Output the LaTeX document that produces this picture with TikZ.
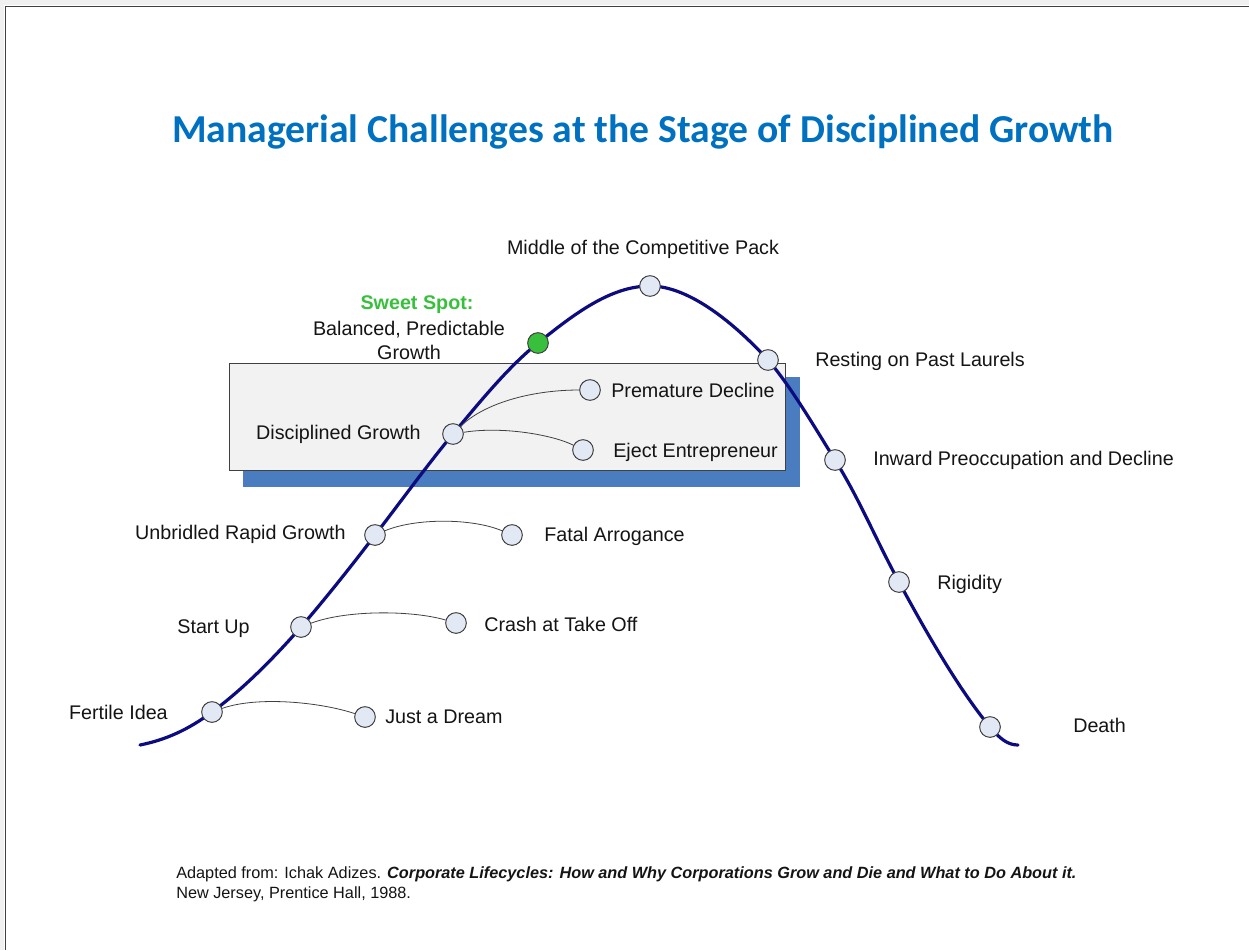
\documentclass[tikz,border=0pt]{standalone}
\usepackage{fontspec}
\setmainfont{Liberation Sans}
\newfontfamily\titlefont{Carlito}
\definecolor{curveblue}{RGB}{12,12,128}
\definecolor{titleblue}{RGB}{0,112,192}
\definecolor{shadowblue}{RGB}{74,124,192}
\definecolor{stagefill}{RGB}{226,233,244}
\definecolor{sweetgreen}{RGB}{56,192,60}
\definecolor{boxgray}{RGB}{242,242,242}
\definecolor{edgegray}{RGB}{64,64,64}
\definecolor{textgray}{RGB}{20,20,20}
\tikzset{
    stage/.style={draw=edgegray, fill=stagefill, circle, line width=0.75pt, minimum size=15.5pt, inner sep=0pt},
    sweet/.style={stage, fill=sweetgreen},
    lbl/.style={font=\fontsize{14.8}{18}\selectfont, text=textgray, inner sep=0pt, text height=11pt, text depth=0pt},
    srcline/.style={lbl, anchor=west, font=\fontsize{12.2}{15}\selectfont, text height=9pt},
    branch/.style={draw=edgegray, line width=0.6pt},
    lifecurve/.style={draw=curveblue, line width=2.4pt, line cap=round}
}

\begin{document}
\begin{tikzpicture}[x=0.75pt, y=-0.75pt]
  \useasboundingbox (0,0) rectangle (1249,950);
  % page frame
  \fill [gray!12] (0,0) rectangle (1249,5);
  \fill [gray!12] (0,0) rectangle (4,950);
  \draw [edgegray, line width=1pt] (5.5,950) -- (5.5,6.5) -- (1249,6.5);

  \node [font=\titlefont\bfseries\fontsize{29.7}{36}\selectfont, text=titleblue] (title) at (643,132)
    {Managerial Challenges at the Stage of Disciplined Growth};

  % panel behind the current stage, with its shadow
  \fill [shadowblue] (243,377) rectangle (800,487);
  \draw [edgegray, fill=boxgray, line width=0.75pt] (229,363) rectangle (785,470);

  % stages along the lifecycle
  \coordinate (c0) at (140,745);
  \coordinate (c1) at (212,712);
  \coordinate (c2) at (301,627);
  \coordinate (c3) at (375,535);
  \coordinate (c4) at (453,434);
  \coordinate (c5) at (538,343);
  \coordinate (c6) at (650,286);
  \coordinate (c7) at (768,360);
  \coordinate (c8) at (835,460);
  \coordinate (c9) at (899,582);
  \coordinate (c10) at (990,727);
  \coordinate (c11) at (1018,745);
  \draw [lifecurve] (c0)
    .. controls +(25,-5) and +(-24,18) .. (c1)
    .. controls +(30,-22) and +(-28,32) .. (c2)
    .. controls +(25,-29) and +(-22,29) .. (c3)
    .. controls +(24,-31) and +(-25,30) .. (c4)
    .. controls +(26,-31) and +(-30,24) .. (c5)
    .. controls +(35,-28) and +(-40,0) .. (c6)
    .. controls +(40,0) and +(-32,-35) .. (c7)
    .. controls +(22,25) and +(-18,-29) .. (c8)
    .. controls +(24,38) and +(-22,-40) .. (c9)
    .. controls +(28,52) and +(-30,-36) .. (c10)
    .. controls +(10,12) and +(-10,0) .. (c11);

  \node [stage] (fi) at (c1) {};
  \node [stage] (su) at (c2) {};
  \node [stage] (ur) at (c3) {};
  \node [stage] (dg) at (c4) {};
  \node [sweet] (ss) at (c5) {};
  \node [stage] (mc) at (c6) {};
  \node [stage] (rp) at (c7) {};
  \node [stage] (ip) at (c8) {};
  \node [stage] (rg) at (c9) {};
  \node [stage] (dt) at (c10) {};

  % traps branching off the curve
  \node [stage] (jd) at (365,717) {};
  \node [stage] (ct) at (456,623) {};
  \node [stage] (fa) at (512,535) {};
  \node [stage] (pd) at (590,390) {};
  \node [stage] (ee) at (583,450) {};
  \draw [branch] (fi) .. controls +(45,-16) and +(-45,-15) .. (jd);
  \draw [branch] (su) .. controls +(45,-17) and +(-45,-13) .. (ct);
  \draw [branch] (ur) .. controls +(40,-17) and +(-40,-17) .. (fa);
  \draw [branch] (dg) .. controls +(30,-30) and +(-60,0) .. (pd);
  \draw [branch] (dg) .. controls +(50,-8) and +(-30,-15) .. (ee);

  % labels
  \node [lbl, anchor=east] (fil) at (168,712) {Fertile Idea};
  \node [lbl, anchor=east] (sul) at (250,626) {Start Up};
  \node [lbl, anchor=east] (url) at (346,532) {Unbridled Rapid Growth};
  \node [lbl, anchor=east] (dgl) at (421,432) {Disciplined Growth};
  \node [lbl, text=sweetgreen, font=\bfseries\fontsize{14.8}{18}\selectfont] (ssl) at (417,302) {Sweet Spot:};
  \node [lbl] (ssl2) at (409,328) {Balanced, Predictable};
  \node [lbl] (ssl3) at (409,352) {Growth};
  \node [lbl] (mcl) at (643,247) {Middle of the Competitive Pack};
  \node [lbl, anchor=west] (rpl) at (815,359) {Resting on Past Laurels};
  \node [lbl, anchor=west] (ipl) at (873,458) {Inward Preoccupation and Decline};
  \node [lbl, anchor=west] (rgl) at (937,582) {Rigidity};
  \node [lbl, anchor=west] (dtl) at (1073,725) {Death};
  \node [lbl, anchor=west] (jdl) at (385,716) {Just a Dream};
  \node [lbl, anchor=west] (ctl) at (484,624) {Crash at Take Off};
  \node [lbl, anchor=west] (fal) at (544,534) {Fatal Arrogance};
  \node [lbl, anchor=west] (pdl) at (611,390) {Premature Decline};
  \node [lbl, anchor=west] (eel) at (613,450) {Eject Entrepreneur};

  % source
  \node [srcline] (src) at (176,872)
    {Adapted from: Ichak Adizes. \textbf{\textit{Corporate Lifecycles: How and Why Corporations Grow and Die and What to Do About it.}}};
  \node [srcline] (src2) at (176,892) {New Jersey, Prentice Hall, 1988.};
\end{tikzpicture}
\end{document}
